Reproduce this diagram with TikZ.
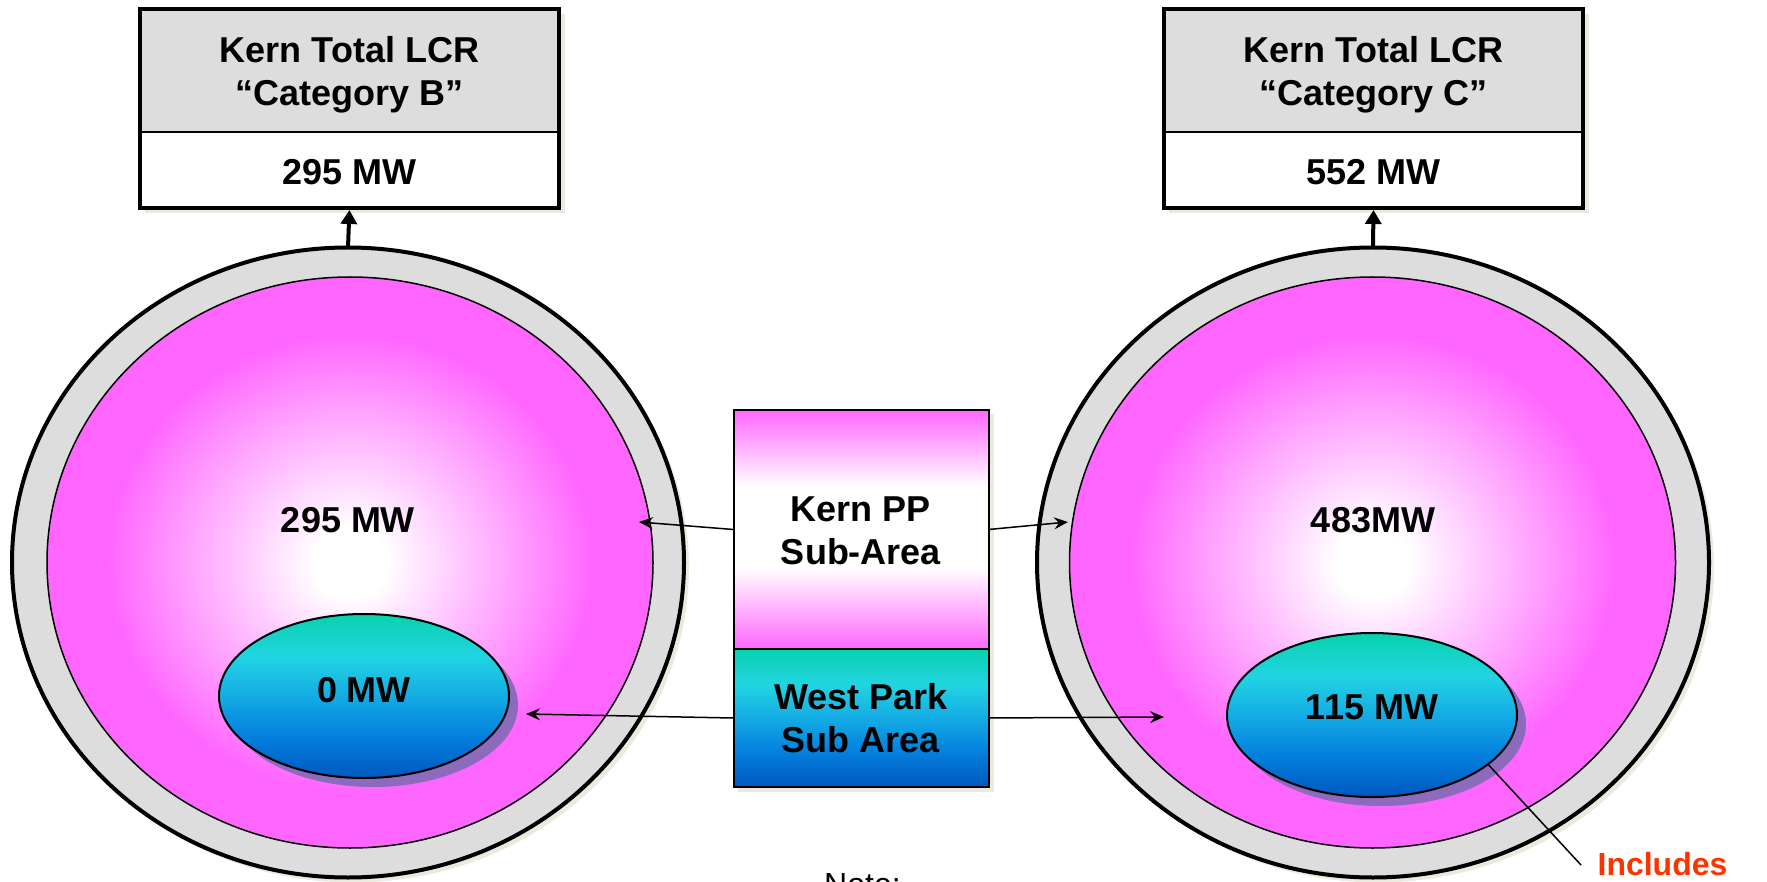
\documentclass[tikz,border=0pt]{standalone}
\usepackage{fontspec}
\setmainfont{Liberation Sans}
\usetikzlibrary{shapes.geometric,arrows.meta}
\definecolor{pk}{RGB}{255,102,255}
\definecolor{ringgray}{RGB}{221,221,221}
\definecolor{shadbeige}{RGB}{236,233,222}
\definecolor{purpshadow}{RGB}{140,106,188}
\definecolor{inclred}{RGB}{255,51,0}
\definecolor{tealtop}{RGB}{8,210,172}
\definecolor{cyanmid}{RGB}{34,212,226}
\definecolor{bluemid}{RGB}{20,172,228}
\definecolor{bluelow}{RGB}{4,128,222}
\definecolor{bluebot}{RGB}{0,88,190}
\pgfdeclareradialshading{pinkglow}{\pgfpoint{0bp}{0bp}}{color(0bp)=(white); color(3bp)=(white); color(20bp)=(pk); color(25bp)=(pk); color(50bp)=(pk)}
\pgfdeclareverticalshading{tealblue}{100bp}{color(0bp)=(bluebot); color(25bp)=(bluebot); color(38bp)=(bluelow); color(50bp)=(bluemid); color(62bp)=(cyanmid); color(75bp)=(tealtop); color(100bp)=(tealtop)}
\pgfdeclareverticalshading{pinkband}{100bp}{color(0bp)=(pk); color(25bp)=(pk); color(42bp)=(white); color(59bp)=(white); color(75bp)=(pk); color(100bp)=(pk)}
\tikzset{
 lbl/.style={font=\fontsize{36}{43}\selectfont\bfseries, align=center, inner sep=0pt},
 ringshape/.style={ellipse, draw=black, line width=4pt, fill=ringgray, minimum width=672pt, minimum height=630pt, inner sep=0pt, outer sep=0pt},
 ringshadow/.style={ellipse, fill=shadbeige, minimum width=672pt, minimum height=630pt, inner sep=0pt},
 glowshape/.style={ellipse, draw=black, line width=1.5pt, shade, shading=pinkglow, minimum width=606pt, minimum height=571pt, inner sep=0pt},
 subshape/.style={ellipse, draw=black, line width=2pt, shade, shading=tealblue, minimum width=290pt, minimum height=164pt, inner sep=0pt, outer sep=0pt},
 subshadow/.style={ellipse, fill=purpshadow, minimum width=290pt, minimum height=164pt, inner sep=0pt},
 titlebox/.style={rectangle, fill=ringgray, draw=black, line width=1.5pt, minimum width=419pt, minimum height=123pt, inner sep=0pt, outer sep=0pt},
 valuebox/.style={rectangle, fill=white, draw=black, line width=1.5pt, minimum width=419pt, minimum height=76pt, inner sep=0pt, outer sep=0pt},
 boxshadow/.style={fill=shadbeige},
 outerframe/.style={draw=black, line width=4.5pt},
 uparrow/.style={draw=black, line width=4pt, shorten >=2pt, -{Triangle[length=14pt,width=16pt]}},
 thinarrow/.style={draw=black, line width=1.5pt, -{Stealth[length=14pt,width=12pt,inset=5pt]}},
 kppbox/.style={rectangle, draw=black, line width=2pt, shade, shading=pinkband, minimum width=255pt, minimum height=239pt, inner sep=0pt, outer sep=0pt},
 wpbox/.style={rectangle, draw=black, line width=2pt, shade, shading=tealblue, minimum width=255pt, minimum height=138pt, inner sep=0pt, outer sep=0pt},
}
\begin{document}
\begin{tikzpicture}[x=1pt,y=-1pt]
\useasboundingbox (0,0) rectangle (1767,882);
\clip (0,0) rectangle (1767,882);
% shadows
\node[ringshadow] at (353,567.5) {};
\node[ringshadow] at (1378,567.5) {};
\fill[boxshadow] (145,14) rectangle (565,213);
\fill[boxshadow] (1169,14) rectangle (1589,213);
\fill[boxshadow] (738,414) rectangle (994,792);
% big circles
\node[ringshape] (ringL) at (348,562.5) {};
\node[ringshape] (ringR) at (1373,562.5) {};
\node[glowshape] (glowL) at (350,562.5) {};
\node[glowshape] (glowR) at (1372.5,562.5) {};
% sub-area ellipses
\node[subshadow] at (373,705) {};
\node[subshape] (subL) at (364,696) {};
\node[subshadow] at (1381,724) {};
\node[subshape] (subR) at (1372,715) {};
% top boxes
\node[titlebox] (titleL) at (349.5,70.5) {};
\node[valuebox] (valL) at (349.5,170) {};
\draw[outerframe] (titleL.north west) rectangle (valL.south east);
\node[titlebox] (titleR) at (1373.5,70.5) {};
\node[valuebox] (valR) at (1373.5,170) {};
\draw[outerframe] (titleR.north west) rectangle (valR.south east);
% middle legend box
\node[kppbox] (kpp) at (861,529.5) {};
\node[wpbox] (wp) at (861,718) {};
% labels
\node[lbl] (tL) at (349.5,75) {Kern Total LCR\\“Category B”};
\node[lbl] (vL) at (349.5,172) {295 MW};
\node[lbl] (tR) at (1373.5,75) {Kern Total LCR\\“Category C”};
\node[lbl] (vR) at (1373.5,172) {552 MW};
\node[lbl] (cL) at (348,520) {295 MW};
\node[lbl] (cR) at (1373,520) {483MW};
\node[lbl] (sL) at (364,690) {0 MW};
\node[lbl] (sR) at (1372,707) {115 MW};
\node[lbl] (kppt) at (861,530.5) {Kern PP\\Sub-Area};
\node[lbl] (wpt) at (861,718) {West Park\\Sub Area};
% connectors
\draw[uparrow] (ringL.north) -- (valL.south);
\draw[uparrow] (ringR.north) -- (valR.south);
\coordinate (kppL) at (639,522);
\coordinate (kppR) at (1068,522);
\coordinate (wpL) at (526,714);
\coordinate (wpR) at (1164,717);
\draw[thinarrow] (kpp.west) -- (kppL);
\draw[thinarrow] (kpp.east) -- (kppR);
\draw[thinarrow] (wp.west) -- (wpL);
\draw[thinarrow] (wp.east) -- (wpR);
\coordinate (inclend) at (1581,865);
\draw[line width=1.5pt] (subR.-23) -- (inclend);
\node[font=\fontsize{32}{38}\selectfont\bfseries, text=inclred, inner sep=0pt] (incl) at (1662.5,864.5) {Includes};
\node[font=\fontsize{32}{38}\selectfont, inner sep=0pt, anchor=base west] (note) at (824,895) {Note:};
\end{tikzpicture}
\end{document}
